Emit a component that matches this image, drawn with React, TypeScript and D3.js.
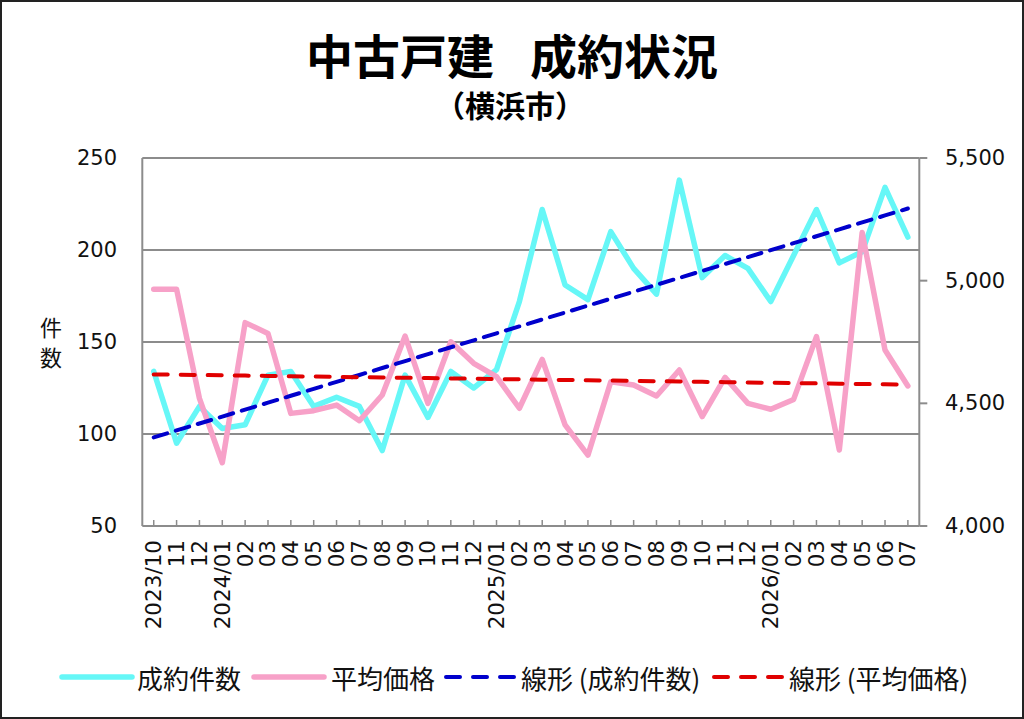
import { scaleBand, scaleLinear, line } from "d3";

const months = [
  "2023/10", "11", "12",
  "2024/01", "02", "03", "04", "05", "06", "07", "08", "09", "10", "11", "12",
  "2025/01", "02", "03", "04", "05", "06", "07", "08", "09", "10", "11", "12",
  "2026/01", "02", "03", "04", "05", "06", "07",
];

// 成約件数 (left axis)
const contracts = [
  134, 95, 115, 103, 105, 132, 134, 115, 120, 115, 91, 132, 109, 134, 125, 135, 172,
  222, 181, 173, 210, 190, 176, 238, 185, 197, 190, 172, 197, 222, 193, 199, 234, 207,
];

// 平均価格 (right axis, 万円)
const prices = [
  4965, 4965, 4520, 4258, 4829, 4785, 4459, 4470, 4493, 4429, 4534, 4774, 4500, 4751, 4663, 4609, 4480,
  4679, 4412, 4289, 4588, 4575, 4530, 4636, 4446, 4606, 4500, 4476, 4516, 4772, 4310, 5196, 4717, 4571,
];

const leftTicks = [50, 100, 150, 200, 250];
const rightTicks = [4000, 4500, 5000, 5500];

const W = 1024;
const H = 719;
const plot = { left: 142.3, right: 919.3, top: 158, bottom: 526 };

const NUM_FONT = "'DejaVu Sans', Verdana, sans-serif";
const JP_FONT = "'Noto Sans CJK JP', 'Noto Sans', sans-serif";

const CYAN = "#66f7f7";
const PINK = "#f7a1c8";
const BLUE = "#0000cc";
const RED = "#e00000";
const GRID = "#8c8c8c";

// least squares fit over category index
function trend(values: number[]) {
  const n = values.length;
  const mx = (n - 1) / 2;
  const my = values.reduce((a, b) => a + b, 0) / n;
  let sxy = 0;
  let sxx = 0;
  values.forEach((v, i) => {
    sxy += (i - mx) * (v - my);
    sxx += (i - mx) * (i - mx);
  });
  const b = sxy / sxx;
  return values.map((_, i) => my + b * (i - mx));
}

export default function App() {
  const idx = months.map((_, i) => String(i));
  const x = scaleBand().domain(idx).range([plot.left, plot.right]);
  const cx = (i: number) => (x(String(i)) ?? 0) + x.bandwidth() / 2;
  const yL = scaleLinear().domain([50, 250]).range([plot.bottom, plot.top]);
  const yR = scaleLinear().domain([4000, 5500]).range([plot.bottom, plot.top]);

  const lineL = line<number>().x((_, i) => cx(i)).y((d) => yL(d));
  const lineR = line<number>().x((_, i) => cx(i)).y((d) => yR(d));

  const contractTrend = trend(contracts);
  const priceTrend = trend(prices);

  const legend = [
    { x: 62, label: "成約件数", color: CYAN, dash: undefined, w: 5.5, tx: 137 },
    { x: 254, label: "平均価格", color: PINK, dash: undefined, w: 5.5, tx: 331 },
    { x: 446, label: "線形 (成約件数)", color: BLUE, dash: "14 13", w: 4, tx: 521 },
    { x: 714, label: "線形 (平均価格)", color: RED, dash: "14 13", w: 4, tx: 789 },
  ];

  return (
    <svg
      width={W}
      height={H}
      style={{ position: "absolute", left: 0, top: 0, background: "#fff" }}
    >
      <rect x={1} y={1} width={W - 2} height={H - 2} fill="#fff" stroke="#222" strokeWidth={2} />

      <text x={400} y={53} textAnchor="middle" dominantBaseline="central"
        fontFamily={JP_FONT} fontWeight={700} fontSize={47}>中古戸建</text>
      <text x={624} y={53} textAnchor="middle" dominantBaseline="central"
        fontFamily={JP_FONT} fontWeight={700} fontSize={47}>成約状況</text>
      <text x={510} y={104} textAnchor="middle" dominantBaseline="central"
        fontFamily={JP_FONT} fontWeight={700} fontSize={30}>（横浜市）</text>

      {/* grid */}
      {leftTicks.map((t) => (
        <line key={`g-${t}`} x1={plot.left} x2={plot.right} y1={yL(t)} y2={yL(t)}
          stroke={GRID} strokeWidth={2} />
      ))}
      <line x1={plot.left} x2={plot.left} y1={plot.top} y2={plot.bottom} stroke={GRID} strokeWidth={2} />
      <line x1={plot.right} x2={plot.right} y1={plot.top} y2={plot.bottom} stroke={GRID} strokeWidth={2} />

      {/* left axis labels */}
      {leftTicks.map((t) => (
        <text key={`l-${t}`} x={117} y={yL(t)} textAnchor="end" dominantBaseline="central"
          fontFamily={NUM_FONT} fontSize={21} fill="#111">{t}</text>
      ))}
      <text x={51} y={326} textAnchor="middle" dominantBaseline="central"
        fontFamily={JP_FONT} fontSize={22} fill="#111">件</text>
      <text x={51} y={356} textAnchor="middle" dominantBaseline="central"
        fontFamily={JP_FONT} fontSize={22} fill="#111">数</text>

      {/* right axis */}
      {rightTicks.map((t) => (
        <g key={`r-${t}`}>
          <line x1={plot.right} x2={plot.right + 8} y1={yR(t)} y2={yR(t)} stroke={GRID} strokeWidth={2} />
          <text x={945} y={yR(t)} dominantBaseline="central"
            fontFamily={NUM_FONT} fontSize={21} fill="#111">{t.toLocaleString("en-US")}</text>
        </g>
      ))}

      {/* x axis */}
      {months.map((m, i) => (
        <g key={`x-${i}`}>
          <line x1={cx(i)} x2={cx(i)} y1={plot.bottom} y2={plot.bottom - 6} stroke={GRID} strokeWidth={1.5} />
          <text transform={`translate(${cx(i)},${plot.bottom + 14}) rotate(-90)`}
            textAnchor="end" dominantBaseline="central"
            fontFamily={NUM_FONT} fontSize={21.5} fill="#111">{m}</text>
        </g>
      ))}

      {/* series */}
      <path d={lineL(contracts) ?? ""} fill="none" stroke={CYAN} strokeWidth={5.5} strokeLinejoin="round" strokeLinecap="round" />
      <path d={lineR(prices) ?? ""} fill="none" stroke={PINK} strokeWidth={5.5} strokeLinejoin="round" strokeLinecap="round" />
      <path d={lineL(contractTrend) ?? ""} fill="none" stroke={BLUE} strokeWidth={4} strokeDasharray="14 9" strokeLinecap="round" />
      <path d={lineR(priceTrend) ?? ""} fill="none" stroke={RED} strokeWidth={4} strokeDasharray="14 13" strokeLinecap="round" />

      {/* legend */}
      {legend.map((d) => (
        <g key={d.label}>
          <line x1={d.x} x2={d.x + 70} y1={677} y2={677} stroke={d.color} strokeWidth={d.w}
            strokeDasharray={d.dash} strokeLinecap="round" />
          <text x={d.tx} y={677} dominantBaseline="central"
            fontFamily={JP_FONT} fontSize={26} fill="#111">{d.label}</text>
        </g>
      ))}
    </svg>
  );
}
